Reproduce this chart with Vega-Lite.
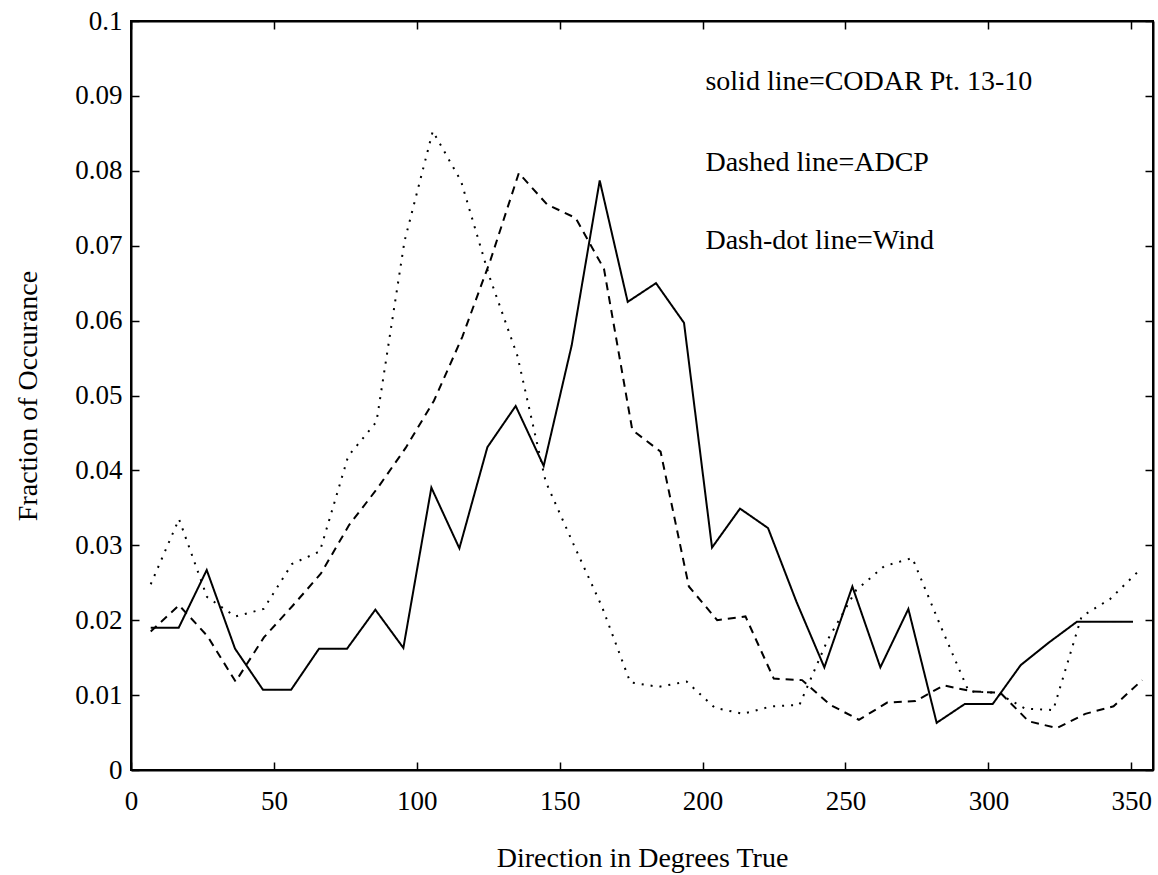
{
  "$schema": "https://vega.github.io/schema/vega-lite/v6.json",
  "width": 1022,
  "height": 749,
  "autosize": "none",
  "padding": {"left": 131, "top": 21, "right": 5, "bottom": 105},
  "background": "white",
  "config": {
    "view": {"stroke": "black", "strokeWidth": 2},
    "font": "Liberation Serif",
    "axis": {
      "grid": false,
      "domainColor": "black",
      "domainWidth": 2,
      "tickColor": "black",
      "tickWidth": 1.5,
      "labelFont": "Liberation Serif",
      "labelFontSize": 27,
      "labelColor": "black",
      "titleFont": "Liberation Serif",
      "titleFontSize": 28,
      "titleFontWeight": "normal",
      "titleColor": "black"
    }
  },
  "datasets": {
    "lines": [
      {"series": "CODAR", "dir": 6.9, "frac": 0.019},
      {"series": "CODAR", "dir": 16.7, "frac": 0.019},
      {"series": "CODAR", "dir": 26.5, "frac": 0.0267},
      {"series": "CODAR", "dir": 36.4, "frac": 0.0162},
      {"series": "CODAR", "dir": 46.2, "frac": 0.0107},
      {"series": "CODAR", "dir": 56.0, "frac": 0.0107},
      {"series": "CODAR", "dir": 65.8, "frac": 0.0162},
      {"series": "CODAR", "dir": 75.6, "frac": 0.0162},
      {"series": "CODAR", "dir": 85.5, "frac": 0.0214},
      {"series": "CODAR", "dir": 95.3, "frac": 0.0163},
      {"series": "CODAR", "dir": 105.1, "frac": 0.0377},
      {"series": "CODAR", "dir": 114.9, "frac": 0.0296},
      {"series": "CODAR", "dir": 124.7, "frac": 0.0431},
      {"series": "CODAR", "dir": 134.6, "frac": 0.0486},
      {"series": "CODAR", "dir": 144.4, "frac": 0.0406},
      {"series": "CODAR", "dir": 154.2, "frac": 0.0567},
      {"series": "CODAR", "dir": 164.0, "frac": 0.0787},
      {"series": "CODAR", "dir": 173.8, "frac": 0.0625},
      {"series": "CODAR", "dir": 183.7, "frac": 0.065},
      {"series": "CODAR", "dir": 193.5, "frac": 0.0597},
      {"series": "CODAR", "dir": 203.3, "frac": 0.0297},
      {"series": "CODAR", "dir": 213.1, "frac": 0.0349},
      {"series": "CODAR", "dir": 222.9, "frac": 0.0323},
      {"series": "CODAR", "dir": 232.8, "frac": 0.0225},
      {"series": "CODAR", "dir": 242.6, "frac": 0.0137},
      {"series": "CODAR", "dir": 252.4, "frac": 0.0245},
      {"series": "CODAR", "dir": 262.2, "frac": 0.0137},
      {"series": "CODAR", "dir": 272.0, "frac": 0.0215},
      {"series": "CODAR", "dir": 281.9, "frac": 0.0063},
      {"series": "CODAR", "dir": 291.7, "frac": 0.0088},
      {"series": "CODAR", "dir": 301.5, "frac": 0.0088},
      {"series": "CODAR", "dir": 311.3, "frac": 0.014},
      {"series": "CODAR", "dir": 321.1, "frac": 0.017},
      {"series": "CODAR", "dir": 331.0, "frac": 0.0198},
      {"series": "CODAR", "dir": 340.8, "frac": 0.0198},
      {"series": "CODAR", "dir": 350.6, "frac": 0.0198},

      {"series": "ADCP", "dir": 6.9, "frac": 0.0185},
      {"series": "ADCP", "dir": 16.8, "frac": 0.022},
      {"series": "ADCP", "dir": 26.7, "frac": 0.0179},
      {"series": "ADCP", "dir": 36.6, "frac": 0.0118},
      {"series": "ADCP", "dir": 46.5, "frac": 0.0177},
      {"series": "ADCP", "dir": 56.5, "frac": 0.0219},
      {"series": "ADCP", "dir": 66.4, "frac": 0.0262},
      {"series": "ADCP", "dir": 76.3, "frac": 0.0327},
      {"series": "ADCP", "dir": 86.2, "frac": 0.0376},
      {"series": "ADCP", "dir": 96.1, "frac": 0.043},
      {"series": "ADCP", "dir": 106.0, "frac": 0.0493},
      {"series": "ADCP", "dir": 115.9, "frac": 0.0578},
      {"series": "ADCP", "dir": 125.8, "frac": 0.0681},
      {"series": "ADCP", "dir": 135.7, "frac": 0.0797},
      {"series": "ADCP", "dir": 145.6, "frac": 0.0755},
      {"series": "ADCP", "dir": 155.6, "frac": 0.0737},
      {"series": "ADCP", "dir": 165.5, "frac": 0.0669},
      {"series": "ADCP", "dir": 175.4, "frac": 0.0454},
      {"series": "ADCP", "dir": 185.3, "frac": 0.0425},
      {"series": "ADCP", "dir": 195.2, "frac": 0.0245},
      {"series": "ADCP", "dir": 205.1, "frac": 0.02},
      {"series": "ADCP", "dir": 215.0, "frac": 0.0205},
      {"series": "ADCP", "dir": 224.9, "frac": 0.0122},
      {"series": "ADCP", "dir": 234.8, "frac": 0.012},
      {"series": "ADCP", "dir": 244.7, "frac": 0.0087},
      {"series": "ADCP", "dir": 254.7, "frac": 0.0067},
      {"series": "ADCP", "dir": 264.6, "frac": 0.009},
      {"series": "ADCP", "dir": 274.5, "frac": 0.0092},
      {"series": "ADCP", "dir": 284.4, "frac": 0.0113},
      {"series": "ADCP", "dir": 294.3, "frac": 0.0105},
      {"series": "ADCP", "dir": 304.2, "frac": 0.0103},
      {"series": "ADCP", "dir": 314.1, "frac": 0.0065},
      {"series": "ADCP", "dir": 324.0, "frac": 0.0056},
      {"series": "ADCP", "dir": 333.9, "frac": 0.0075},
      {"series": "ADCP", "dir": 343.8, "frac": 0.0085},
      {"series": "ADCP", "dir": 353.8, "frac": 0.012},

      {"series": "Wind", "dir": 6.9, "frac": 0.0248},
      {"series": "Wind", "dir": 16.8, "frac": 0.0335},
      {"series": "Wind", "dir": 26.6, "frac": 0.0231},
      {"series": "Wind", "dir": 36.5, "frac": 0.0205},
      {"series": "Wind", "dir": 46.4, "frac": 0.0215},
      {"series": "Wind", "dir": 56.3, "frac": 0.0275},
      {"series": "Wind", "dir": 66.1, "frac": 0.0292},
      {"series": "Wind", "dir": 76.0, "frac": 0.0419},
      {"series": "Wind", "dir": 85.9, "frac": 0.0465},
      {"series": "Wind", "dir": 95.7, "frac": 0.0706},
      {"series": "Wind", "dir": 105.6, "frac": 0.0853},
      {"series": "Wind", "dir": 115.5, "frac": 0.0786},
      {"series": "Wind", "dir": 125.3, "frac": 0.066},
      {"series": "Wind", "dir": 135.2, "frac": 0.0553},
      {"series": "Wind", "dir": 145.1, "frac": 0.0385},
      {"series": "Wind", "dir": 155.0, "frac": 0.03},
      {"series": "Wind", "dir": 164.8, "frac": 0.0218},
      {"series": "Wind", "dir": 174.7, "frac": 0.0117},
      {"series": "Wind", "dir": 184.6, "frac": 0.0111},
      {"series": "Wind", "dir": 194.4, "frac": 0.0118},
      {"series": "Wind", "dir": 204.3, "frac": 0.0083},
      {"series": "Wind", "dir": 214.2, "frac": 0.0075},
      {"series": "Wind", "dir": 224.0, "frac": 0.0085},
      {"series": "Wind", "dir": 233.9, "frac": 0.0087},
      {"series": "Wind", "dir": 243.8, "frac": 0.0174},
      {"series": "Wind", "dir": 253.7, "frac": 0.024},
      {"series": "Wind", "dir": 263.5, "frac": 0.0272},
      {"series": "Wind", "dir": 273.4, "frac": 0.0283},
      {"series": "Wind", "dir": 283.3, "frac": 0.0192},
      {"series": "Wind", "dir": 293.1, "frac": 0.0105},
      {"series": "Wind", "dir": 303.0, "frac": 0.0103},
      {"series": "Wind", "dir": 312.9, "frac": 0.0082},
      {"series": "Wind", "dir": 322.7, "frac": 0.008},
      {"series": "Wind", "dir": 332.6, "frac": 0.0205},
      {"series": "Wind", "dir": 342.5, "frac": 0.0228},
      {"series": "Wind", "dir": 352.4, "frac": 0.0265}
    ],
    "notes": [
      {"x": 201, "y": 0.0918, "label": "solid line=CODAR Pt. 13-10"},
      {"x": 201, "y": 0.0811, "label": "Dashed line=ADCP"},
      {"x": 201, "y": 0.0706, "label": "Dash-dot line=Wind"}
    ]
  },
  "layer": [
    {
      "data": {"name": "lines"},
      "mark": {"type": "line", "color": "black", "strokeWidth": 2},
      "encoding": {
        "x": {
          "field": "dir", "type": "quantitative",
          "scale": {"domain": [0, 357.6], "nice": false, "zero": false},
          "axis": {
            "orient": "bottom",
            "title": "Direction in Degrees True",
            "values": [0, 50, 100, 150, 200, 250, 300, 350],
            "tickSize": -8,
            "labelPadding": 26,
            "titlePadding": 30,
            "labelFlush": false
          }
        },
        "y": {
          "field": "frac", "type": "quantitative",
          "scale": {"domain": [0, 0.1], "nice": false},
          "axis": {
            "orient": "left",
            "title": "Fraction of Occurance",
            "values": [0, 0.01, 0.02, 0.03, 0.04, 0.05, 0.06, 0.07, 0.08, 0.09, 0.1],
            "format": ".2~f",
            "tickSize": -8,
            "labelPadding": 17,
            "titlePadding": 32
          }
        },
        "strokeDash": {
          "field": "series", "type": "nominal",
          "scale": {"domain": ["CODAR", "ADCP", "Wind"], "range": [[1, 0], [8, 6], [2, 7]]},
          "legend": null
        },
        "detail": {"field": "series"}
      }
    },
    {
      "data": {"name": "notes"},
      "mark": {"type": "text", "align": "left", "baseline": "middle", "font": "Liberation Serif", "fontSize": 28, "color": "black"},
      "encoding": {
        "x": {
          "field": "x", "type": "quantitative",
          "scale": {"domain": [0, 357.6], "nice": false, "zero": false},
          "axis": {"orient": "top", "title": null, "labels": false, "values": [0, 50, 100, 150, 200, 250, 300, 350], "tickSize": -8}
        },
        "y": {
          "field": "y", "type": "quantitative",
          "scale": {"domain": [0, 0.1], "nice": false},
          "axis": {"orient": "right", "title": null, "labels": false, "values": [0, 0.01, 0.02, 0.03, 0.04, 0.05, 0.06, 0.07, 0.08, 0.09, 0.1], "tickSize": -8}
        },
        "text": {"field": "label"}
      }
    }
  ],
  "resolve": {"axis": {"x": "independent", "y": "independent"}}
}
